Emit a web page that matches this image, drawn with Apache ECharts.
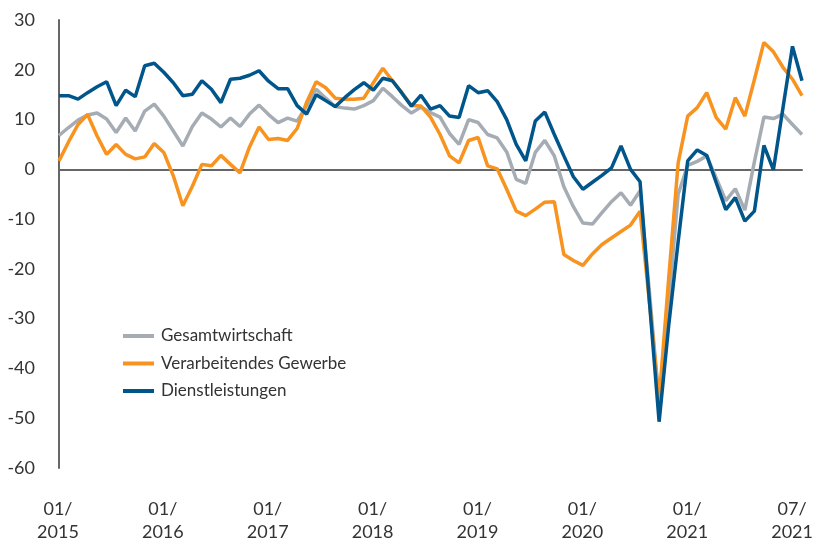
<!DOCTYPE html>
<html lang="de">
<head>
    <meta charset="UTF-8">
    <title>Vertrauensindikatoren</title>
    <script src="https://cdn.jsdelivr.net/npm/echarts@6/dist/echarts.min.js"></script>
    <style>
        html, body { margin: 0; padding: 0; background: #fff; }
        #main { width: 816px; height: 544px; }
    </style>
</head>
<body>
<div id="main"></div>
<script type="text/javascript">
    // Monate 01/2015 bis 07/2021
    var months = [];
    for (var y = 2015; y <= 2021; y++) {
        for (var m = 1; m <= 12; m++) {
            if (y === 2021 && m > 7) break;
            months.push((m < 10 ? '0' + m : '' + m) + '/' + y);
        }
    }

    // Beschriftung der x-Achse
    var tickLabels = ['01/\n2015', '01/\n2016', '01/\n2017', '01/\n2018', '01/\n2019', '01/\n2020', '01/\n2021', '07/\n2021'];

    var gesamt = [
        6.8, 8.4, 9.9, 10.9, 11.3, 10.1, 7.4, 10.3, 7.7, 11.7,
        13.1, 10.7, 7.7, 4.7, 8.6, 11.3, 10.1, 8.5, 10.3, 8.6,
        11.1, 12.9, 11.0, 9.4, 10.3, 9.7, 12.8, 16.1, 14.3, 12.6,
        12.3, 12.1, 12.8, 13.8, 16.3, 14.6, 12.8, 11.3, 12.5, 11.4,
        10.5, 7.2, 5.0, 10.0, 9.4, 7.0, 6.3, 3.5, -2.0, -2.8,
        3.4, 5.8, 2.7, -3.5, -7.5, -10.8, -11.0, -8.7, -6.5, -4.7,
        -7.2, -4.3, -25, -47, -27, -5, 0.8, 1.6, 2.7, -1.8,
        -6.3, -3.9, -8.2, 1.5, 10.5, 10.2, 11.1, 9.0, 7.0
    ];

    var verarbeitend = [
        1.7, 5.5, 9.0, 11.0, 6.7, 3.0, 5.0, 3.0, 2.1, 2.5,
        5.2, 3.4, -1.3, -7.3, -3.4, 1.0, 0.7, 2.8, 1.0, -0.7,
        4.5, 8.5, 6.0, 6.2, 5.8, 8.2, 13.5, 17.6, 16.4, 14.3,
        14.1, 14.1, 14.3, 17.4, 20.3, 17.8, 15.4, 12.8, 12.7, 10.5,
        7.0, 2.7, 1.3, 5.8, 6.4, 0.7, 0.1, -4.0, -8.4, -9.3,
        -8.0, -6.6, -6.5, -17.1, -18.3, -19.3, -17.0, -15.1, -13.8, -12.5,
        -11.2, -8.4, -27, -46.3, -22, 1.3, 10.7, 12.4, 15.4, 10.4,
        8.1, 14.4, 10.7, 18.0, 25.5, 23.6, 20.5, 18.1, 14.8
    ];

    var dienst = [
        14.8, 14.8, 14.1, 15.4, 16.6, 17.6, 12.8, 15.9, 14.6, 20.8,
        21.3, 19.5, 17.4, 14.8, 15.1, 17.8, 16.1, 13.4, 18.1, 18.3,
        18.9, 19.8, 17.7, 16.2, 16.2, 12.8, 11.1, 15.0, 13.8, 12.6,
        14.4, 16.0, 17.4, 15.9, 18.3, 17.8, 15.3, 12.7, 14.9, 12.1,
        12.8, 10.7, 10.4, 16.8, 15.4, 15.8, 13.6, 10.0, 5.0, 1.7,
        9.7, 11.5, 7.0, 2.7, -1.5, -4.0, -2.6, -1.2, 0.3, 4.7,
        0.0, -2.5, -27, -50.7, -31.5, -14.5, 1.7, 3.9, 2.8, -2.7,
        -8.1, -5.7, -10.4, -8.4, 4.8, -0.1, 12.3, 24.7, 17.8
    ];

    var seriesNames = ['Gesamtwirtschaft', 'Verarbeitendes Gewerbe', 'Dienstleistungen'];
    var colors = ['#a5acb3', '#f7931e', '#00558b'];

    var myChart = echarts.init(document.getElementById('main'));

    var fontFamily = 'Lato, "DejaVu Sans", sans-serif';

    var option = {
        animation: false,
        color: colors,
        textStyle: { fontFamily: fontFamily },
        grid: [
            { left: 59, right: 14, top: 20, bottom: 76 },
            { left: 58, right: 19, top: 20, bottom: 76 }
        ],
        legend: {
            orient: 'vertical',
            left: 118,
            top: 321,
            icon: 'rect',
            itemWidth: 31,
            itemHeight: 4,
            itemGap: 7.5,
            textStyle: {
                fontSize: 17,
                color: '#333',
                lineHeight: 20,
                padding: [0, 0, 0, 2]
            },
            data: seriesNames
        },
        xAxis: [
            {
                type: 'category',
                gridIndex: 0,
                data: months,
                boundaryGap: false,
                axisLine: { onZero: true, lineStyle: { color: '#666', width: 2 } },
                axisTick: { show: false },
                axisLabel: { show: false },
                splitLine: { show: false }
            },
            {
                type: 'category',
                gridIndex: 1,
                data: tickLabels,
                boundaryGap: false,
                position: 'bottom',
                axisLine: { show: false },
                axisTick: { show: false },
                axisLabel: {
                    color: '#333',
                    fontSize: 18,
                    lineHeight: 23,
                    margin: 31,
                    interval: 0
                },
                splitLine: { show: false }
            }
        ],
        yAxis: [
            {
                type: 'value',
                gridIndex: 0,
                min: -60,
                max: 30,
                interval: 10,
                axisLine: { show: true, lineStyle: { color: '#666', width: 2 } },
                axisTick: { show: false },
                axisLabel: { color: '#333', fontSize: 18, margin: 24 },
                splitLine: { show: false }
            },
            {
                type: 'value',
                gridIndex: 1,
                min: -60,
                max: 30,
                show: false
            }
        ],
        series: [
            {
                name: seriesNames[0],
                type: 'line',
                data: gesamt,
                showSymbol: false,
                lineStyle: { width: 3.5, color: colors[0] }
            },
            {
                name: seriesNames[1],
                type: 'line',
                data: verarbeitend,
                showSymbol: false,
                lineStyle: { width: 3.5, color: colors[1] }
            },
            {
                name: seriesNames[2],
                type: 'line',
                data: dienst,
                showSymbol: false,
                lineStyle: { width: 3.5, color: colors[2] }
            }
        ]
    };

    myChart.setOption(option);
</script>
</body>
</html>
